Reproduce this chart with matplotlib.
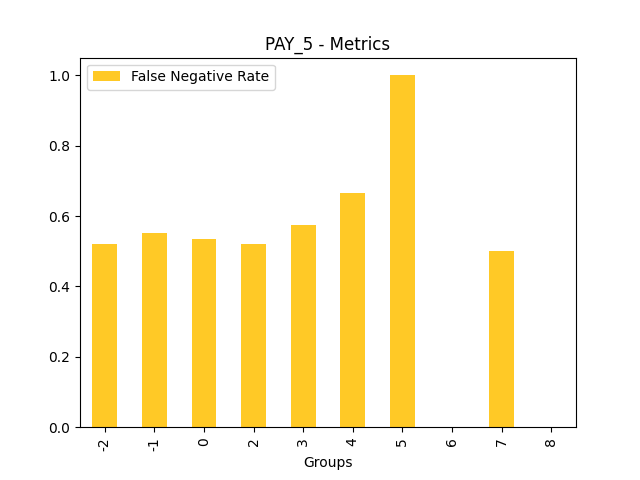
import matplotlib
matplotlib.use("Agg")
import matplotlib.pyplot as plt
import pandas as pd

groups = ["-2", "-1", "0", "2", "3", "4", "5", "6", "7", "8"]
fnr = [0.520, 0.553, 0.534, 0.520, 0.575, 0.666, 1.0, 0.0, 0.5, 0.0]

df = pd.DataFrame({"False Negative Rate": fnr}, index=groups)

fig, ax = plt.subplots(figsize=(6.4, 4.8), dpi=100)
df.plot(kind="bar", ax=ax, color="#ffc926")
ax.set_title("PAY_5 - Metrics")
ax.set_xlabel("Groups")
ax.legend(loc="upper left")

fig.savefig("out.png")
